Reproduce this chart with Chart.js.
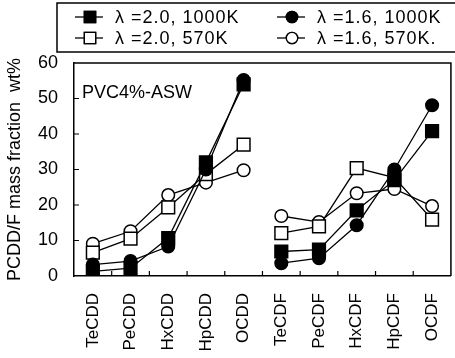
<!DOCTYPE html>
<html>
<head>
<meta charset="utf-8">
<script src="https://cdn.jsdelivr.net/npm/chart.js@4.4.1/dist/chart.umd.min.js"></script>
<style>
  html, body { margin: 0; padding: 0; background: #fff; overflow: hidden; }
  .chart-container { width: 470px; height: 358px; }
</style>
</head>
<body>
<div class="chart-container">
  <canvas id="lineChart" width="470" height="358"></canvas>
</div>
<script>
const categories = ['TeCDD', 'PeCDD', 'HxCDD', 'HpCDD', 'OCDD', 'TeCDF', 'PeCDF', 'HxCDF', 'HpCDF', 'OCDF'];
const yTicks = [0, 10, 20, 30, 40, 50, 60];

// wt% por congénere
const lam20_1000K = [1.3, 2.2, 10.7, 32.0, 54.0, 6.9, 7.4, 18.5, 27.0, 40.8];
const lam16_1000K = [3.2, 4.2, 8.3, 30.0, 55.2, 3.6, 5.0, 14.3, 30.0, 48.1];
const lam20_570K = [6.6, 10.5, 19.3, 28.7, 37.0, 12.1, 14.0, 30.4, 27.7, 15.9];
const lam16_570K = [9.1, 12.6, 22.8, 26.3, 29.8, 16.9, 15.2, 23.3, 24.5, 19.7];

const seriesLabels = ['λ =2.0, 1000K', 'λ =1.6, 1000K', 'λ =2.0, 570K', 'λ =1.6, 570K.'];

const FONT = "'Liberation Sans', Arial, sans-serif";

// no unir OCDD con TeCDF
const splitSegment = {
  borderColor: ctx => (ctx.p0DataIndex === 4 ? 'rgba(0,0,0,0)' : undefined),
};

const makeSet = (label, data, style, filled) => ({
  label: label,
  data: data,
  borderColor: '#000',
  borderWidth: 1.3,
  pointStyle: style,
  pointRadius: style === 'rect' ? 9 : 6.3,
  pointBackgroundColor: filled ? '#000' : '#fff',
  pointBorderColor: '#000',
  pointBorderWidth: 1.5,
  fill: false,
  tension: 0,
  segment: splitSegment,
});

const datasets = [
  makeSet(seriesLabels[0], lam20_1000K, 'rect', true),
  makeSet(seriesLabels[1], lam16_1000K, 'circle', true),
  makeSet(seriesLabels[2], lam20_570K, 'rect', false),
  makeSet(seriesLabels[3], lam16_570K, 'circle', false),
];

const framePlugin = {
  id: 'frame',
  beforeDatasetsDraw(chart) {
    const { ctx, chartArea: a, scales } = chart;
    ctx.save();
    ctx.strokeStyle = '#000';
    ctx.lineWidth = 1.5;
    ctx.beginPath();
    ctx.moveTo(a.left, a.top);
    ctx.lineTo(a.right, a.top);
    ctx.lineTo(a.right, a.bottom);
    ctx.stroke();
    // marcas hacia adentro
    ctx.lineWidth = 1.2;
    ctx.beginPath();
    yTicks.slice(1, -1).forEach(v => {
      const y = scales.y.getPixelForValue(v);
      ctx.moveTo(a.left, y);
      ctx.lineTo(a.left + 5, y);
    });
    const step = scales.x.getPixelForValue(1) - scales.x.getPixelForValue(0);
    for (let i = 0; i < categories.length - 1; i++) {
      const x = scales.x.getPixelForValue(i) + step / 2;
      ctx.moveTo(x, a.bottom);
      ctx.lineTo(x, a.bottom - 5);
    }
    ctx.stroke();

    ctx.fillStyle = '#000';
    ctx.font = '18px ' + FONT;
    ctx.textBaseline = 'middle';
    ctx.fillText('PVC4%-ASW', a.left + 8, 93);
    ctx.restore();
  },
  afterDraw(chart) {
    const { ctx } = chart;
    ctx.save();
    ctx.fillStyle = '#fff';
    ctx.strokeStyle = '#000';
    ctx.lineWidth = 1.5;
    ctx.fillRect(57, 3, 420, 49);
    ctx.strokeRect(57, 3, 420, 49);

    const items = [
      { x: 75, y: 17, ds: datasets[0] },
      { x: 277, y: 17, ds: datasets[1] },
      { x: 75, y: 38, ds: datasets[2] },
      { x: 277, y: 38, ds: datasets[3] },
    ];
    items.forEach(it => {
      ctx.lineWidth = 1.3;
      ctx.strokeStyle = '#000';
      ctx.beginPath();
      ctx.moveTo(it.x, it.y);
      ctx.lineTo(it.x + 28, it.y);
      ctx.stroke();
      Chart.helpers.drawPoint(ctx, {
        pointStyle: it.ds.pointStyle,
        radius: it.ds.pointStyle === 'rect' ? 8 : 5.7,
        borderWidth: 1.5,
      }, it.x + 15, it.y);
      ctx.fillStyle = it.ds.pointBackgroundColor;
      ctx.fill();
      ctx.stroke();
      ctx.fillStyle = '#000';
      ctx.font = '18px ' + FONT;
      ctx.letterSpacing = '1px';
      ctx.textBaseline = 'middle';
      ctx.fillText(it.ds.label, it.x + 40, it.y + 1);
      ctx.letterSpacing = '0px';
    });
    ctx.restore();
  },
};

const lineChartConfig = {
  type: 'line',
  data: { labels: categories, datasets: datasets },
  options: {
    responsive: false,
    animation: false,
    layout: { padding: { top: 63, right: 8, left: 0, bottom: 0 } },
    scales: {
      x: {
        offset: true,
        grid: { display: false, drawTicks: false },
        border: { display: true, color: '#000', width: 1.5 },
        ticks: {
          color: '#000',
          font: { family: FONT, size: 17 },
          minRotation: 90,
          maxRotation: 90,
          padding: 17,
        },
        afterFit: scale => { scale.height = 82; },
      },
      y: {
        min: 0,
        max: 60,
        grid: { display: false, drawTicks: false },
        border: { display: true, color: '#000', width: 1.5 },
        ticks: {
          stepSize: 10,
          color: '#000',
          font: { family: FONT, size: 18 },
          padding: 16,
        },
        title: {
          display: true,
          text: 'PCDD/F mass fraction  wt%',
          color: '#000',
          font: { family: FONT, size: 18 },
          padding: { top: 4, bottom: 0 },
        },
        afterFit: scale => { scale.width = 74; },
      },
    },
    plugins: {
      legend: { display: false },
      tooltip: { enabled: false },
    },
  },
  plugins: [framePlugin],
};

new Chart(document.getElementById('lineChart'), lineChartConfig);
</script>
</body>
</html>
